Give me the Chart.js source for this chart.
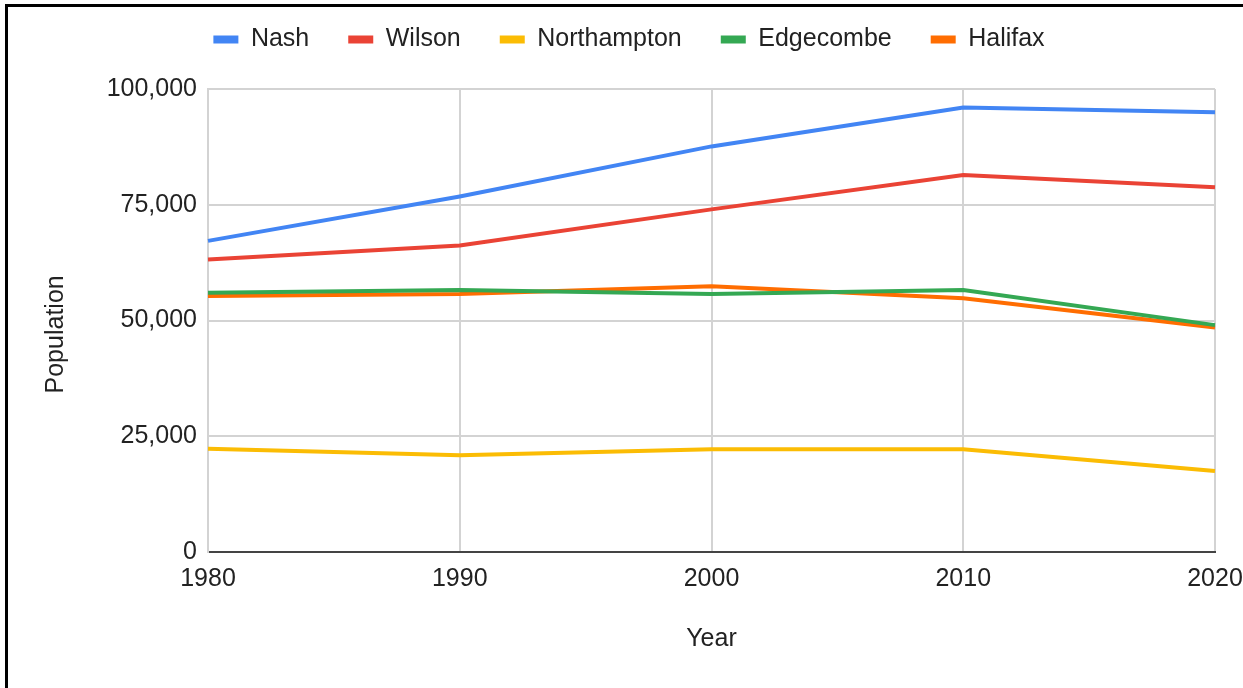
<!DOCTYPE html>
<html>
<head>
<meta charset="utf-8">
<script src="https://cdn.jsdelivr.net/npm/chart.js@4/dist/chart.umd.min.js"></script>
<style>
  html, body { margin: 0; padding: 0; background: #fff; overflow: hidden; }
  #wrap { position: relative; width: 1243px; height: 688px; }
  #frame {
    position: absolute; left: 5px; top: 4px; width: 1260px; height: 700px;
    border-left: 3px solid #000; border-top: 3px solid #000; pointer-events: none;
  }
  canvas { position: absolute; left: 0; top: 0; }
</style>
</head>
<body>
<div id="wrap">
  <canvas id="chart" width="1243" height="688"></canvas>
  <div id="frame"></div>
</div>
<script>
// County population by census year
const years = ['1980', '1990', '2000', '2010', '2020'];
const nash        = [67200, 76800, 87600, 96000, 95000];
const wilson      = [63200, 66200, 74000, 81400, 78800];
const northampton = [22300, 20900, 22200, 22200, 17500];
const edgecombe   = [56000, 56600, 55700, 56600, 49000];
const halifax     = [55300, 55700, 57400, 54800, 48500];
const yTicks      = [0, 25000, 50000, 75000, 100000];

const FONT = 'Liberation Sans, Arial, sans-serif';
const TEXT = '#222222';
const SIZE = 25;

function series(label, data, color) {
  return {
    label, data,
    borderColor: color, backgroundColor: color,
    borderWidth: 4, pointRadius: 0, pointHoverRadius: 0, tension: 0, fill: false
  };
}

// stretch the legend box so the plot starts lower
const legendHeight = {
  id: 'legendHeight',
  beforeInit(chart) {
    const fit = chart.legend.fit;
    chart.legend.fit = function () {
      fit.call(this);
      this.height = 101;
    };
  }
};

new Chart(document.getElementById('chart'), {
  type: 'line',
  data: {
    labels: years,
    datasets: [
      series('Nash', nash, '#4285F4'),
      series('Wilson', wilson, '#EA4335'),
      series('Northampton', northampton, '#FBBC04'),
      series('Edgecombe', edgecombe, '#34A853'),
      series('Halifax', halifax, '#FF6D01')
    ]
  },
  plugins: [legendHeight],
  options: {
    responsive: false,
    animation: false,
    devicePixelRatio: 1,
    layout: { padding: { top: -12, left: 15, right: 0, bottom: 0 } },
    plugins: {
      tooltip: { enabled: false },
      legend: {
        position: 'top',
        labels: {
          boxWidth: 25, boxHeight: 8, padding: 39,
          color: TEXT,
          font: { family: FONT, size: SIZE },
          generateLabels(chart) {
            return Chart.defaults.plugins.legend.labels.generateLabels(chart)
              .map(l => Object.assign(l, { lineWidth: 0 }));
          }
        }
      }
    },
    scales: {
      x: {
        type: 'category',
        offset: false,
        grid: { color: '#d3d3d3', lineWidth: 2, drawTicks: false },
        border: { color: '#444444', width: 2 },
        ticks: { color: TEXT, font: { family: FONT, size: SIZE }, padding: 12, maxRotation: 0, autoSkip: false },
        title: { display: true, text: 'Year', color: TEXT, font: { family: FONT, size: SIZE }, padding: { top: 0, bottom: 34 } },
        afterFit(scale) {
          scale.height = 136;
          scale.paddingLeft = 0;
          scale.paddingRight = 28;
        }
      },
      y: {
        min: 0, max: 100000,
        afterBuildTicks(scale) { scale.ticks = yTicks.map(v => ({ value: v })); },
        grid: { color: '#d3d3d3', lineWidth: 2, drawTicks: false },
        border: { color: '#d3d3d3', width: 2 },
        ticks: {
          color: TEXT, font: { family: FONT, size: SIZE }, padding: 11,
          callback: v => v.toLocaleString('en-US')
        },
        title: { display: true, text: 'Population    ', color: TEXT, font: { family: FONT, size: SIZE }, padding: { top: 26, bottom: 0 } },
        afterFit(scale) {
          scale.width = 193;
          scale.paddingTop = 0;
          scale.paddingBottom = 0;
        }
      }
    }
  }
});
</script>
</body>
</html>
